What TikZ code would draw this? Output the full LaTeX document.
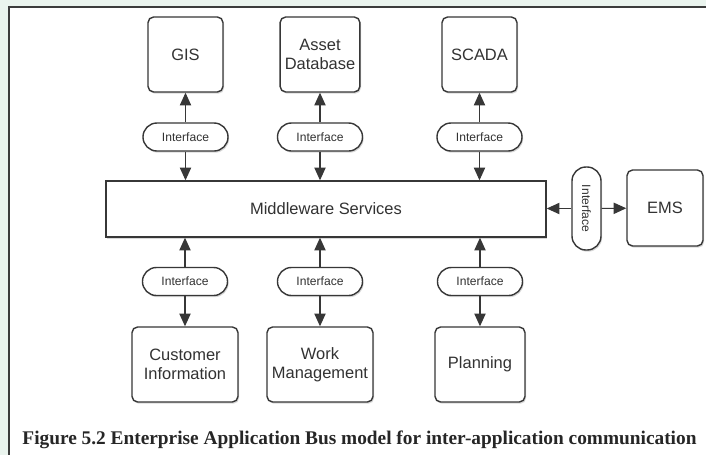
\documentclass[tikz,border=0pt]{standalone}
\usepackage{fontspec}
\setsansfont{Liberation Sans}
\newfontfamily\captionfont{Liberation Serif}
\usepackage{tikz}
\usetikzlibrary{arrows.meta, positioning, shadows}
\definecolor{mintback}{RGB}{234,244,238}
\definecolor{framegray}{RGB}{60,60,60}
\definecolor{boxline}{RGB}{55,55,55}
\definecolor{inktext}{RGB}{50,50,50}

\begin{document}
\begin{tikzpicture}[
    x=0.025cm, y=-0.025cm,
    every node/.style={font=\sffamily, text=inktext},
    appbox/.style={rectangle, draw=boxline, line width=1pt, fill=white, rounded corners=4pt, minimum width=1.875cm, minimum height=1.875cm, align=center, font=\sffamily\fontsize{11.7}{13.5}\selectfont, drop shadow={opacity=0.3, shadow xshift=0.8pt, shadow yshift=-1.2pt}},
    busbox/.style={rectangle, draw=boxline, line width=1pt, fill=white, minimum width=11cm, minimum height=1.4cm, font=\sffamily\fontsize{11.7}{13.5}\selectfont, drop shadow={opacity=0.3, shadow xshift=0.8pt, shadow yshift=-1.2pt}},
    ifpill/.style={rectangle, draw=boxline, line width=1pt, fill=white, rounded corners=0.35cm, minimum width=2.125cm, minimum height=0.7cm, inner sep=0pt, font=\sffamily\fontsize{8.6}{10}\selectfont, drop shadow={opacity=0.3, shadow xshift=0.8pt, shadow yshift=-1.2pt}},
    link/.style={-{Triangle[length=9pt, width=8pt]}, line width=0.8pt, draw=boxline}
]

\useasboundingbox (0,0) rectangle (706,455);
\fill[mintback] (0,0) rectangle (706,455);
\fill[white] (9,7) rectangle (706,455);
\draw[framegray, line width=1.4pt] (9,455) -- (9,7) -- (706,7);

\node[appbox] (gis) at (185.5,54.5) {GIS};
\node[appbox] (asset) at (320,54.5) {Asset\\Database};
\node[appbox] (scada) at (479.5,54.5) {SCADA};

\node[ifpill] (igis) at (185.5,137) {Interface};
\node[ifpill] (iasset) at (320,137) {Interface};
\node[ifpill] (iscada) at (479.5,137) {Interface};

\node[busbox] (mw) at (326,209) {Middleware Services};

\node[ifpill, minimum width=0.725cm, minimum height=2.075cm] (iems) at (586.5,208.5) {\rotatebox{-90}{Interface}};
\node[appbox, minimum width=1.9cm, minimum height=1.9cm] (ems) at (665,208) {EMS};

\node[ifpill] (icust) at (185,281.5) {Interface};
\node[ifpill] (iwork) at (320,281.5) {Interface};
\node[ifpill] (iplan) at (480,281.5) {Interface};

\node[appbox, minimum width=2.65cm] (cust) at (185,364.5) {Customer\\Information};
\node[appbox, minimum width=2.65cm] (work) at (320,364.5) {Work\\Management};
\node[appbox, minimum width=2.25cm] (plan) at (480,364.5) {Planning};

\foreach \i/\b in {igis/gis, iasset/asset, iscada/scada} {
  \draw[link] (\i) -- (\b);
  \draw[link] (\i) -- (\i |- mw.north);
}
\foreach \i/\b in {icust/cust, iwork/work, iplan/plan} {
  \draw[link] (\i) -- (\b);
  \draw[link] (\i) -- (\i |- mw.south);
}
\draw[link] (iems) -- (iems -| mw.east);
\draw[link] (iems) -- (ems);

\node[font=\captionfont\bfseries\fontsize{13.75}{15}\selectfont, text=black!85] (caption) at (359.5,440) {Figure 5.2 Enterprise Application Bus model for inter-application communication};

\end{tikzpicture}
\end{document}
